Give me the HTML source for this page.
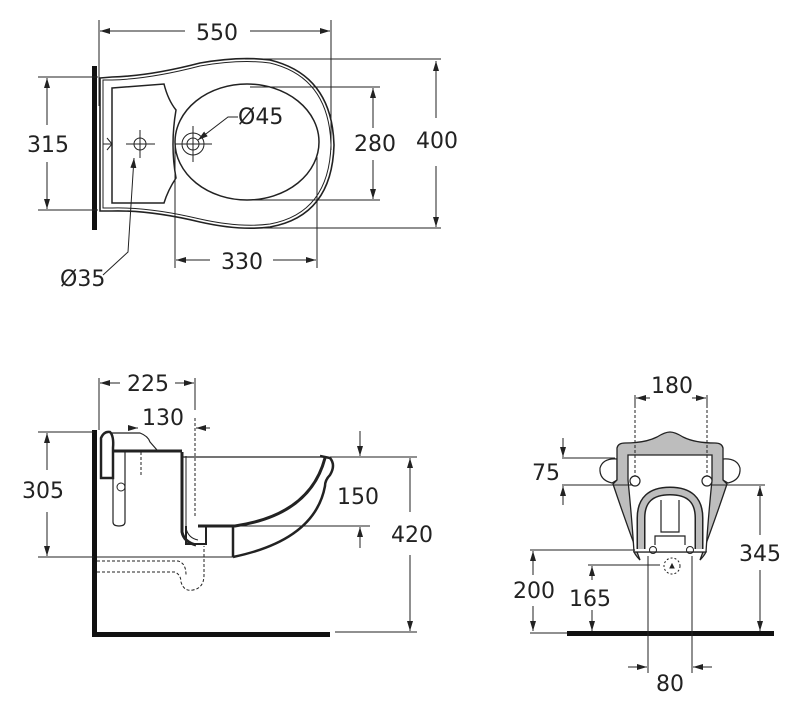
<!DOCTYPE html>
<html><head><meta charset="utf-8"><style>
html,body{margin:0;padding:0;background:#fff;}
svg{display:block;}
text{font-family:"DejaVu Sans","Liberation Sans",sans-serif;font-size:22px;fill:#222;}
</style></head><body>
<svg width="800" height="713" viewBox="0 0 800 713" xmlns="http://www.w3.org/2000/svg">
<defs>
<marker id="a" markerWidth="10" markerHeight="6" refX="10" refY="3" orient="auto" markerUnits="userSpaceOnUse"><path d="M0,0 L10,3 L0,6 Z" fill="#222"/></marker>
</defs>
<g stroke="#222" stroke-width="1" fill="none">
<!-- ===== TOP VIEW ===== -->
<rect x="92" y="66" width="5" height="164" fill="#111" stroke="none"/>
<path d="M100,78 L112,77 Q150,76 200,63 Q240,56 270,60 Q332,75 334,145 Q332,216 270,227 Q240,231 200,222 Q150,210 112,211 L100,211 Z" stroke-width="1.6"/>
<path d="M103,80 L112,80 Q150,79 200,66 Q240,59 270,63 Q329,77 331,145 Q329,213 270,224 Q240,228 200,219 Q150,207 112,208 L103,208 Z" stroke-width="1"/>
<path d="M112,88 L164,84 Q168,100 176,110 Q170,145 176,178 Q168,190 164,203 L112,203 Z" stroke-width="1.5"/>
<ellipse cx="247" cy="142" rx="72" ry="58" stroke-width="1.5"/>
<path d="M103,144 L112,144 M107,138 L112,144 L107,150"/>
<circle cx="140" cy="144" r="6"/>
<path d="M126,144 H155 M140,130 V158"/>
<circle cx="193" cy="144" r="11"/><circle cx="193" cy="144" r="6"/>
<path d="M175,144 H212 M193,126 V162"/>
<!-- dims -->
<path d="M99,20 V106 M331,20 V150"/>
<path d="M185,31 H100" marker-end="url(#a)"/><path d="M250,31 H330" marker-end="url(#a)"/>
<path d="M38,77 H98 M38,210 H98"/>
<path d="M47,125 V78" marker-end="url(#a)"/><path d="M47,162 V209" marker-end="url(#a)"/>
<path d="M250,87 H380 M250,200 H380"/>
<path d="M373,128 V88" marker-end="url(#a)"/><path d="M373,160 V199" marker-end="url(#a)"/>
<path d="M245,59 H441 M245,228 H441"/>
<path d="M436,118 V61" marker-end="url(#a)"/><path d="M436,166 V227" marker-end="url(#a)"/>
<path d="M175,144 V268 M317,157 V268"/>
<path d="M210,260 H176" marker-end="url(#a)"/><path d="M273,260 H316" marker-end="url(#a)"/>
<path d="M238,117 L228,117 L198,140" marker-end="url(#a)"/>
<path d="M103,275 L128,252 L134,158" marker-end="url(#a)"/>
<!-- ===== SIDE VIEW ===== -->
<rect x="92" y="430" width="5" height="207" fill="#111" stroke="none"/>
<rect x="92" y="632" width="238" height="5" fill="#111" stroke="none"/>
<path d="M101,478 L101,438 Q104,431 110,432 Q114,436 113,448 L113,478 Z" stroke-width="2.5"/>
<path d="M110,433 L140,433 Q148,436 150,442 L157,450" stroke-width="1.2"/>
<path d="M113,451 L182,451" stroke-width="3"/>
<path d="M113,452 L113,522 Q113,526 119,526 Q125,526 125,522 L125,452" stroke-width="1.2"/>
<circle cx="121" cy="487" r="4"/>
<path d="M182,452 L182,532 Q184,542 196,545" stroke-width="3"/>
<path d="M186,456 L186,528 Q188,538 198,540" stroke-width="1"/>
<path d="M182,457 L322,457" stroke-width="1.2"/>
<path d="M325,458 Q310,515 235,526 L198,526" stroke-width="3"/>
<path d="M320,456 L330,458 Q336,465 330,475 Q325,480 325,486 Q315,540 233,557" stroke-width="2.5"/>
<path d="M233,526 V557" stroke-width="2.5"/>
<path d="M186,526 L186,544 L206,544 L206,526" stroke-width="2"/>
<path d="M97,557 H233"/>
<path d="M97,561 H178 Q186,563 186,575 M97,572 H175 Q181,575 181,582 Q184,592 193,590 Q204,588 204,575 L204,546" stroke-dasharray="3,2"/>
<path d="M195,418 V517 M141,452 V475" stroke-dasharray="3,2"/>
<path d="M99,378 V430 M195,378 V410"/>
<path d="M120,383 H100" marker-end="url(#a)"/><path d="M175,383 H194" marker-end="url(#a)"/>
<path d="M128,428 H138" marker-end="url(#a)"/><path d="M210,428 H196" marker-end="url(#a)"/>
<path d="M38,432 H94 M38,557 H94"/>
<path d="M47,470 V433" marker-end="url(#a)"/><path d="M47,512 V556" marker-end="url(#a)"/>
<path d="M330,457 H417 M240,526 H370 M335,632 H417"/>
<path d="M360,431 V456" marker-end="url(#a)"/><path d="M360,548 V527" marker-end="url(#a)"/>
<path d="M410,512 V458" marker-end="url(#a)"/><path d="M410,555 V631" marker-end="url(#a)"/>
<!-- ===== FRONT VIEW ===== -->
<path d="M617,459 Q603,458 600,468 Q599,480 612,483 L617,480 Z" fill="#fff" stroke-width="1.2"/>
<path d="M723,459 Q737,458 740,468 Q741,480 728,483 L723,480 Z" fill="#fff" stroke-width="1.2"/>
<path d="M640,560 Q625,520 613,484 L617,480 L617,448 Q618,443 625,443 Q645,443 657,437 Q665,432 670,432 Q675,432 683,437 Q695,443 715,443 Q722,443 723,448 L723,480 L727,484 Q715,520 700,560 Q704,556 706,552 L634,552 Q636,556 640,560 Z" fill="#bdbdbd" stroke-width="1.3"/>
<path d="M628,455 L712,455 L712,480 Q708,520 706,552 L634,552 Q632,520 628,480 Z" fill="#fff" stroke-width="1.3"/>
<path d="M641,549 L641,518 Q641,491 670,491 Q699,491 699,518 L699,549" stroke-width="9"/>
<path d="M641,549 L641,518 Q641,491 670,491 Q699,491 699,518 L699,549" stroke="#bdbdbd" stroke-width="6"/>
<path d="M661,500 V532 H679 V500 M655,545 V536 H685 V545" stroke-width="1.2"/>
<path d="M635,395 V476 M707,395 V476" stroke-dasharray="3,2"/>
<circle cx="635" cy="481" r="5" fill="#fff" stroke-width="1.2"/><circle cx="707" cy="481" r="5" fill="#fff" stroke-width="1.2"/>
<circle cx="653" cy="550" r="3.5"/><circle cx="690" cy="550" r="3.5"/>
<circle cx="672" cy="566" r="8" stroke-dasharray="2,2"/>
<path d="M670,568 L672,564 L674,568 Z" fill="#222"/>
<path d="M650,398 H636" marker-end="url(#a)"/><path d="M692,398 H706" marker-end="url(#a)"/>
<path d="M635,395 V405 M707,395 V405"/>
<rect x="567" y="631" width="207" height="5" fill="#111" stroke="none"/>
<path d="M562,458 H615 M562,485 H633 M712,485 H765"/>
<path d="M563,438 V457" marker-end="url(#a)"/><path d="M563,505 V486" marker-end="url(#a)"/>
<path d="M760,535 V486" marker-end="url(#a)"/><path d="M760,570 V631" marker-end="url(#a)"/>
<path d="M530,550 H635 M588,565 H660"/>
<path d="M533,575 V551" marker-end="url(#a)"/><path d="M533,606 V631" marker-end="url(#a)"/>
<path d="M592,580 V566" marker-end="url(#a)"/><path d="M592,610 V631" marker-end="url(#a)"/>
<path d="M530,633 H567"/>
<path d="M648,556 V673 M692,556 V673"/>
<path d="M628,667 H647" marker-end="url(#a)"/><path d="M712,667 H693" marker-end="url(#a)"/>
</g>
<g>
<text x="217" y="40" text-anchor="middle">550</text>
<text x="48" y="152" text-anchor="middle">315</text>
<text x="375" y="151" text-anchor="middle">280</text>
<text x="437" y="148" text-anchor="middle">400</text>
<text x="242" y="269" text-anchor="middle">330</text>
<text x="238" y="124">Ø45</text>
<text x="60" y="286">Ø35</text>
<text x="148" y="391" text-anchor="middle">225</text>
<text x="163" y="425" text-anchor="middle">130</text>
<text x="43" y="498" text-anchor="middle">305</text>
<text x="358" y="504" text-anchor="middle">150</text>
<text x="412" y="542" text-anchor="middle">420</text>
<text x="672" y="393" text-anchor="middle">180</text>
<text x="546" y="480" text-anchor="middle">75</text>
<text x="760" y="561" text-anchor="middle">345</text>
<text x="534" y="598" text-anchor="middle">200</text>
<text x="590" y="606" text-anchor="middle">165</text>
<text x="670" y="691" text-anchor="middle">80</text>
</g>
</svg>
</body></html>
